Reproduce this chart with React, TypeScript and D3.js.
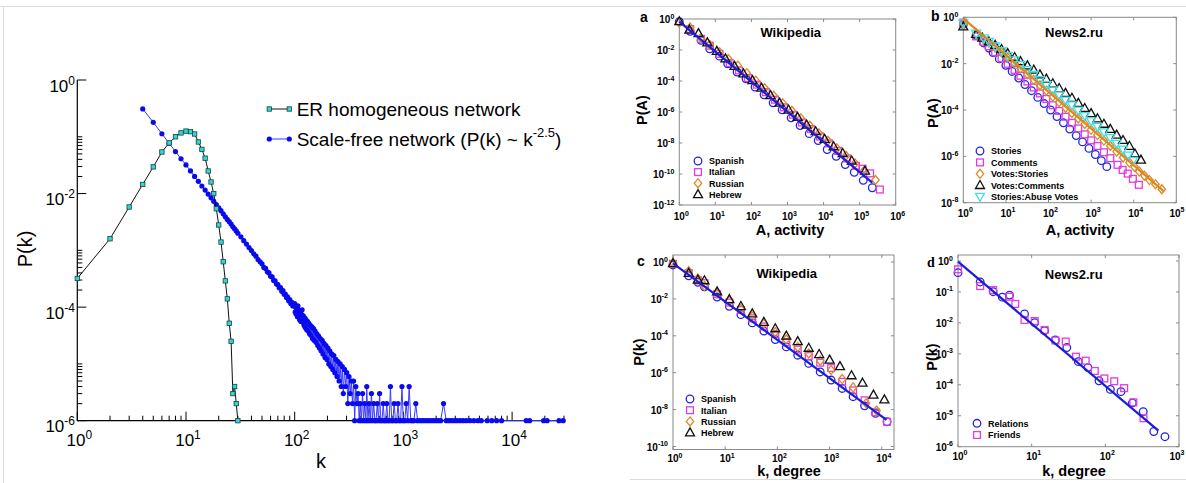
import React from "react";
import * as d3 from "d3";

type Pt = [number, number];
type Shape = "circle" | "square" | "diamond" | "triangle" | "triangleDown";

const SANS = "'Liberation Sans', Arial, Helvetica, sans-serif";

// ---------- left panel: degree distributions ----------
const erPoints: Pt[] = [
  [1, 3.2e-4], [2, 1.6e-3], [3, 5.8e-3], [4, 0.0145], [5, 0.0295], [6, 0.054], [7, 0.078],
  [8, 0.1], [9, 0.117], [10, 0.126], [11, 0.123], [12, 0.112], [13, 0.081], [14, 0.06],
  [15, 0.042], [16, 0.025], [17, 0.016], [18, 0.01], [19, 5.4e-3], [20, 2.8e-3], [21, 1.4e-3],
  [22, 6.3e-4], [23, 2.9e-4], [24, 1.4e-4], [25, 5.2e-5], [26, 2.5e-5], [27, 3e-6], [28, 4e-6],
  [29, 2e-6], [30, 1e-6],
];

const sfHead: Pt[] = [
  [4, 0.31], [5, 0.18], [6, 0.113], [7, 0.077], [8, 0.055], [9, 0.041], [10, 0.032], [11, 0.025],
  [12, 0.02], [13, 0.0164], [14, 0.0136], [15, 0.0115], [16, 0.0098], [17, 0.0084], [18, 0.0073],
  [19, 0.0064], [20, 0.0056], [21, 0.005], [22, 0.0044], [23, 0.0039], [24, 0.0035], [25, 0.0032],
  [26, 0.0029], [27, 0.0026], [28, 0.0024], [29, 0.0022], [30, 0.002], [32, 0.00173], [34, 0.00148],
  [36, 0.00129], [38, 0.00112], [40, 9.9e-4], [42, 8.7e-4], [44, 7.9e-4], [46, 6.9e-4], [48, 6.3e-4],
  [50, 5.8e-4], [52, 5.0e-4], [54, 4.8e-4], [56, 4.2e-4], [58, 4.0e-4], [60, 3.5e-4], [62, 3.4e-4],
  [64, 2.95e-4], [66, 2.9e-4], [68, 2.55e-4], [70, 2.5e-4], [72, 2.2e-4], [74, 2.2e-4], [76, 1.9e-4],
  [78, 1.95e-4], [80, 1.68e-4], [82, 1.7e-4], [84, 1.48e-4], [86, 1.52e-4], [88, 1.3e-4], [90, 1.36e-4],
  [92, 1.16e-4], [94, 1.22e-4], [96, 1.05e-4], [98, 1.1e-4],
];

const sfNoisy: Pt[] = [
  [100, 1.15e-4], [101, 8.2e-5], [102, 1.0e-4], [103, 7.6e-5], [105, 9.4e-5], [106, 6.8e-5],
  [107, 1.05e-4], [109, 7.2e-5], [110, 8.8e-5], [111, 6.0e-5], [113, 8.0e-5], [114, 5.6e-5],
  [116, 7.4e-5], [117, 9.0e-5], [119, 5.4e-5], [120, 7.0e-5], [122, 4.8e-5], [124, 6.4e-5],
  [125, 4.4e-5], [127, 6.0e-5], [129, 4.0e-5], [131, 5.6e-5], [133, 3.8e-5], [135, 5.2e-5],
  [137, 3.4e-5], [139, 4.8e-5], [141, 3.2e-5], [144, 4.5e-5], [146, 2.8e-5], [149, 4.2e-5],
  [151, 2.6e-5], [154, 3.8e-5], [157, 2.4e-5], [160, 3.4e-5], [163, 2.1e-5], [166, 3.1e-5],
  [169, 1.9e-5], [172, 2.8e-5], [175, 1.7e-5], [179, 2.6e-5], [182, 1.5e-5], [186, 2.3e-5],
  [190, 1.3e-5], [194, 2.1e-5], [198, 1.2e-5], [202, 1.9e-5], [206, 1.0e-5], [210, 1.7e-5],
  [215, 9e-6], [219, 1.5e-5], [224, 8e-6], [229, 1.4e-5], [234, 7e-6], [239, 1.2e-5], [245, 6e-6],
  [250, 1.1e-5], [256, 5e-6], [262, 1.0e-5], [268, 4e-6], [274, 9e-6], [280, 3e-6], [287, 8e-6],
  [294, 4e-6], [301, 7e-6], [308, 2e-6], [316, 6e-6], [324, 3e-6], [332, 5e-6], [340, 2e-6],
  [348, 5e-6], [356, 1e-6], [365, 4e-6], [374, 2e-6], [383, 3e-6], [392, 1e-6],
];

const sfTail: Pt[] = [
  [400, 2e-6], [410, 1e-6], [421, 3e-6], [430, 1e-6], [441, 2e-6], [452, 1e-6], [460, 4e-6],
  [472, 1e-6], [483, 2e-6], [495, 1e-6], [508, 3e-6], [520, 1e-6], [533, 2e-6], [547, 1e-6],
  [560, 1e-6], [575, 2e-6], [590, 1e-6], [604, 3e-6], [620, 1e-6], [636, 1e-6], [652, 2e-6],
  [668, 1e-6], [685, 1e-6], [703, 2e-6], [721, 1e-6], [740, 1e-6], [760, 4e-6], [780, 1e-6],
  [800, 1e-6], [822, 2e-6], [845, 1e-6], [868, 1e-6], [892, 2e-6], [917, 1e-6], [943, 1e-6],
  [970, 4e-6], [998, 1e-6], [1030, 1e-6], [1060, 2e-6], [1095, 1e-6], [1130, 4e-6], [1170, 1e-6],
  [1210, 1e-6], [1250, 1e-6], [1300, 2e-6], [1350, 1e-6], [1420, 1e-6], [1500, 1e-6], [1580, 1e-6],
  [1670, 1e-6], [1760, 1e-6], [1860, 1e-6], [1970, 1e-6], [2080, 1e-6], [2200, 1e-6], [2340, 2e-6],
  [2480, 1e-6], [2620, 1e-6], [2780, 1e-6], [2950, 1e-6], [3130, 1e-6], [3330, 1e-6], [3550, 1e-6],
  [3800, 1e-6], [4100, 1e-6], [4450, 1e-6], [4850, 1e-6], [5200, 1e-6], [5900, 1e-6], [6500, 1e-6],
  [7200, 1e-6], [8000, 1e-6], [13500, 1e-6], [14500, 1e-6], [19500, 1e-6], [21000, 1e-6],
  [27000, 1e-6], [29500, 1e-6],
];

// ---------- panel a: Wikipedia activity ----------
const wikiActSpanish: Pt[] = [
  [1, 0.68], [2, 0.16], [4, 0.042], [7, 0.012], [13, 4.0e-3], [22, 1.3e-3], [40, 3.8e-4], [71, 1.4e-4],
  [126, 4.1e-5], [224, 1.3e-5], [400, 3.9e-6], [710, 1.4e-6], [1260, 4.2e-7], [2240, 1.35e-7],
  [4000, 4.0e-8], [7100, 1.45e-8], [12600, 3.8e-9], [22400, 1.4e-9], [40000, 4.1e-10],
  [71000, 1.3e-10], [126000, 3.9e-11], [224000, 1.3e-11],
];
const wikiActItalian: Pt[] = [
  [2, 0.22], [4, 0.052], [7, 0.019], [13, 5.6e-3], [25, 1.45e-3], [45, 4.8e-4], [80, 1.55e-4],
  [141, 5.8e-5], [251, 1.9e-5], [447, 6.2e-6], [794, 2.0e-6], [1410, 6.6e-7], [2510, 2.1e-7],
  [4470, 7.9e-8], [7940, 2.6e-8], [14100, 9.5e-9], [25100, 3.1e-9], [44700, 1.0e-9],
  [79400, 3.4e-10], [120000, 2.2e-10], [195000, 1.1e-10], [363000, 1.0e-11],
];
const wikiActRussian: Pt[] = [
  [1, 0.58], [2, 0.28], [4, 0.059], [7, 0.021], [13, 7.2e-3], [23, 2.6e-3], [42, 9.8e-4], [74, 3.2e-4],
  [132, 1.05e-4], [234, 3.4e-5], [417, 1.1e-5], [741, 3.6e-6], [1320, 1.2e-6], [2340, 3.9e-7],
  [4170, 1.3e-7], [7410, 4.2e-8], [13200, 1.4e-8], [23400, 4.5e-9], [41700, 1.5e-9],
  [74100, 4.8e-10], [132000, 1.6e-10], [275000, 4.1e-11],
];
const wikiActHebrew: Pt[] = [
  [1, 0.7], [1.9, 0.2], [3.4, 0.12], [6, 0.03], [11, 8.5e-3], [19, 2.8e-3], [34, 9.1e-4], [60, 3.0e-4],
  [107, 1.1e-4], [190, 3.6e-5], [339, 1.2e-5], [603, 3.9e-6], [1070, 1.4e-6], [1900, 4.7e-7],
  [3390, 1.5e-7], [6030, 5.6e-8], [10700, 1.8e-8], [19000, 6.0e-9], [33900, 2.2e-9],
  [60300, 7.2e-10], [141000, 1.6e-10],
];
const wikiActFit: Pt[] = [[1, 0.68], [224000, 2.8e-11]];

// ---------- panel b: News2.ru activity ----------
const newsStories: Pt[] = [
  [1, 0.5], [2, 0.166], [3, 0.078], [4, 0.047], [5, 0.03], [7, 0.016], [10, 8.5e-3], [14, 4.6e-3],
  [20, 2.4e-3], [28, 1.26e-3], [40, 6.8e-4], [56, 3.5e-4], [79, 1.9e-4], [112, 1.0e-4], [158, 5.2e-5],
  [224, 2.8e-5], [316, 1.5e-5], [447, 7.9e-6], [631, 4.2e-6], [891, 2.2e-6], [1260, 1.2e-6],
  [1740, 6.5e-7], [2340, 3.6e-7],
];
const newsComments: Pt[] = [
  [1, 0.59], [2, 0.15], [3, 0.089], [4, 0.056], [5.6, 0.031], [7.9, 0.017], [11, 9.8e-3], [16, 5.4e-3],
  [22, 3.0e-3], [32, 1.7e-3], [45, 9.3e-4], [63, 5.2e-4], [89, 3.0e-4], [126, 1.6e-4], [178, 9.1e-5],
  [251, 5.1e-5], [355, 2.8e-5], [501, 1.6e-5], [708, 8.9e-6], [1000, 4.9e-6], [1410, 2.8e-6],
  [2000, 1.5e-6], [2820, 8.3e-7], [4170, 4.3e-7], [5500, 2.6e-7], [7240, 1.8e-7], [9550, 1.07e-7],
  [13200, 5.9e-8],
];
const newsVotesStories: Pt[] = [
  [1, 0.5], [2, 0.19], [3, 0.11], [4, 0.079], [5.6, 0.05], [7.9, 0.03], [11, 0.018], [16, 0.0105],
  [22, 6.3e-3], [32, 3.5e-3], [45, 2.0e-3], [63, 1.17e-3], [89, 6.8e-4], [126, 3.8e-4], [178, 2.2e-4],
  [251, 1.26e-4], [355, 7.4e-5], [501, 4.3e-5], [708, 2.5e-5], [1000, 1.4e-5], [1410, 8.3e-6],
  [2000, 4.8e-6], [2820, 2.8e-6], [3980, 1.6e-6], [5620, 8.9e-7], [7940, 5.4e-7], [10500, 3.5e-7],
  [13500, 2.2e-7], [17800, 1.45e-7], [23400, 9.5e-8], [32400, 6.3e-8], [45700, 3.8e-8],
];
const newsVotesComments: Pt[] = [
  [1, 0.4], [2, 0.19], [2.8, 0.13], [4, 0.089], [5.6, 0.063], [7.9, 0.042], [11, 0.028], [16, 0.019],
  [22, 0.0126], [32, 8.3e-3], [45, 5.4e-3], [63, 3.4e-3], [89, 2.2e-3], [126, 1.4e-3], [178, 8.7e-4],
  [251, 5.4e-4], [355, 3.3e-4], [501, 2.0e-4], [708, 1.2e-4], [1000, 7.2e-5], [1410, 4.3e-5],
  [2000, 2.5e-5], [2820, 1.5e-5], [3980, 8.5e-6], [5620, 5.0e-6], [7940, 2.8e-6], [10700, 1.3e-6],
  [14800, 7.1e-7],
];
const newsAbuseVotes: Pt[] = [
  [1, 0.56], [2, 0.2], [3, 0.126], [4, 0.089], [5.6, 0.056], [7.9, 0.035], [11, 0.022], [16, 0.014],
  [22, 8.9e-3], [32, 5.4e-3], [45, 3.3e-3], [63, 2.0e-3], [89, 1.2e-3], [126, 7.2e-4], [178, 4.4e-4],
  [251, 2.6e-4], [355, 1.6e-4], [501, 9.5e-5], [708, 5.6e-5], [1000, 3.3e-5], [1410, 1.9e-5],
  [2000, 1.1e-5], [2820, 6.3e-6], [3980, 3.5e-6], [5620, 2.0e-6], [7410, 1.1e-6], [9550, 6.3e-7],
];
const newsActFit: Pt[] = [[1, 0.9], [52000, 3.0e-8]];

// ---------- panel c: Wikipedia degree ----------
const wikiDegSpanish: Pt[] = [
  [1, 0.69], [2, 0.18], [3, 0.079], [4, 0.045], [7, 0.0126], [12, 4.0e-3], [20, 1.4e-3], [33, 5.0e-4],
  [55, 1.8e-4], [91, 6.3e-5], [148, 2.5e-5], [245, 8.9e-6], [398, 3.2e-6], [661, 1.1e-6],
  [1070, 4.0e-7], [1740, 1.4e-7], [2820, 5.0e-8], [4680, 1.6e-8], [7590, 6.3e-9], [12600, 2.2e-9],
];
const wikiDegItalian: Pt[] = [
  [1, 0.79], [2, 0.25], [3, 0.1], [4, 0.071], [7, 0.018], [12, 6.3e-3], [20, 2.5e-3], [33, 8.9e-4],
  [55, 3.2e-4], [91, 1.26e-4], [148, 4.5e-5], [245, 1.8e-5], [398, 7.9e-6], [661, 3.5e-6],
  [1070, 1.8e-6], [1740, 3.2e-7], [2820, 1.1e-7], [4680, 3.2e-8], [7590, 7.1e-9], [12600, 2.2e-9],
];
const wikiDegRussian: Pt[] = [
  [1, 0.89], [2, 0.32], [3, 0.126], [4, 0.05], [7, 0.02], [12, 7.9e-3], [20, 2.8e-3], [33, 1.1e-3],
  [55, 4.5e-4], [91, 1.6e-4], [148, 6.3e-5], [245, 2.5e-5], [398, 1.1e-5], [661, 4.5e-6],
  [1070, 1.4e-6], [1740, 4.5e-7], [2820, 1.6e-7], [5010, 2.2e-8], [7940, 8.9e-9],
];
const wikiDegHebrew: Pt[] = [
  [1, 0.85], [2, 0.25], [3, 0.11], [4, 0.1], [7, 0.025], [12, 9.5e-3], [20, 4.0e-3], [33, 1.6e-3],
  [55, 5.6e-4], [91, 2.5e-4], [148, 1.0e-4], [245, 5.0e-5], [398, 2.2e-5], [631, 1.0e-5],
  [1000, 5.0e-6], [1580, 2.2e-6], [2630, 7.1e-7], [4270, 2.8e-7], [6920, 6.3e-8], [11200, 3.5e-8],
];
const wikiDegFit: Pt[] = [[1, 0.85], [12300, 2.75e-9]];

// ---------- panel d: News2.ru degree ----------
const newsRelations: Pt[] = [
  [1, 0.42], [2, 0.21], [3, 0.102], [4, 0.068], [5, 0.079], [8, 0.0195], [11, 0.0102], [15, 5.6e-3],
  [21, 2.8e-3], [30, 1.6e-3], [43, 5.6e-4], [58, 3.6e-4], [82, 1.35e-4], [117, 7.1e-5], [163, 6.0e-5],
  [233, 2.6e-5], [327, 1.35e-5], [455, 3.1e-6], [645, 2.1e-6],
];
const newsFriends: Pt[] = [
  [1, 0.54], [2, 0.155], [3, 0.115], [5, 0.07], [6, 0.041], [8, 0.0124], [11, 0.0115], [15, 5.9e-3],
  [21, 2.7e-3], [29, 2.5e-3], [40, 8.1e-4], [54, 6.0e-4], [72, 2.8e-4], [97, 1.6e-4], [132, 1.3e-4],
  [180, 7.8e-5], [240, 2.7e-5], [330, 8.3e-6],
];
const newsDegFit: Pt[] = [[1, 0.95], [525, 3.3e-6]];

const BLUE = "#2424e0";
const MAGENTA = "#e23be0";
const ORANGE = "#dc8a25";
const CYAN = "#3fe0e8";

function Marker({ shape, x, y, color }: { shape: Shape; x: number; y: number; color: string }) {
  const common = { fill: "none", stroke: color, strokeWidth: 1.3 };
  if (shape === "circle") return <circle cx={x} cy={y} r={3.8} {...common} />;
  if (shape === "square") return <rect x={x - 3.4} y={y - 3.4} width={6.8} height={6.8} {...common} />;
  if (shape === "diamond")
    return <path d={`M${x},${y - 4.5}L${x + 3.7},${y}L${x},${y + 4.5}L${x - 3.7},${y}Z`} {...common} />;
  if (shape === "triangle")
    return <path d={`M${x},${y - 4.7}L${x + 4.5},${y + 3.3}L${x - 4.5},${y + 3.3}Z`} {...common} />;
  return <path d={`M${x},${y + 4.7}L${x + 4.5},${y - 3.3}L${x - 4.5},${y - 3.3}Z`} {...common} />;
}

function Pow({ x, y, exp, anchor, size, supSize, dy, weight }: any) {
  return (
    <text x={x} y={y} textAnchor={anchor} fontSize={size} fontWeight={weight} fill="#000">
      10<tspan dy={-dy} fontSize={supSize}>{exp}</tspan>
    </text>
  );
}

function LeftPanel() {
  const x = d3.scaleLog().domain([1, 1e4]).range([77.3, 512.1]);
  const y = d3.scaleLog().domain([1e-6, 1]).range([420.7, 80]);
  const line = d3.line<Pt>().x((d) => x(d[0])).y((d) => y(d[1]));
  const sf = [...sfHead, ...sfNoisy, ...sfTail];
  const xAxisEnd = 565;
  const xMinor: number[] = [];
  for (let e = 0; e <= 4; e++)
    for (let m = 2; m <= 9; m++) {
      const v = m * Math.pow(10, e);
      if (x(v) <= xAxisEnd) xMinor.push(v);
    }
  const yMinor: number[] = [];
  [-6, -4, -2].forEach((e) => {
    for (let m = 2; m <= 10; m++) yMinor.push(m * Math.pow(10, e));
  });
  const base = y(1e-6);
  return (
    <g fontFamily={SANS}>
      <line x1={x(1)} x2={x(1)} y1={y(1)} y2={base} stroke="#000" strokeWidth={1.2} />
      <line x1={x(1)} x2={xAxisEnd} y1={base} y2={base} stroke="#000" strokeWidth={1.2} />
      {[0, 1, 2, 3, 4].map((e) => (
        <line key={"xM" + e} x1={x(10 ** e)} x2={x(10 ** e)} y1={base} y2={base - 9} stroke="#000" />
      ))}
      {xMinor.map((v) => (
        <line key={"xm" + v} x1={x(v)} x2={x(v)} y1={base} y2={base - 5} stroke="#000" />
      ))}
      {[0, -2, -4, -6].map((e) => (
        <line key={"yM" + e} x1={x(1)} x2={x(1) + 9} y1={y(10 ** e)} y2={y(10 ** e)} stroke="#000" />
      ))}
      {yMinor.map((v) => (
        <line key={"ym" + v} x1={x(1)} x2={x(1) + 5} y1={y(v)} y2={y(v)} stroke="#000" />
      ))}
      {[0, 1, 2, 3, 4].map((e) => (
        <Pow key={"xl" + e} x={x(10 ** e) + 2} y={base + 25} exp={e} anchor="middle" size={17} supSize={12} dy={7} />
      ))}
      {[0, -2, -4, -6].map((e) => (
        <Pow key={"yl" + e} x={75} y={y(10 ** e) + 11.5} exp={e} anchor="end" size={17} supSize={12} dy={7} />
      ))}
      <text x={321} y={468} textAnchor="middle" fontSize={20}>k</text>
      <text transform="translate(32,249) rotate(-90)" textAnchor="middle" fontSize={20}>P(k)</text>

      <path d={line(sf) || ""} fill="none" stroke="#3a3aff" strokeWidth={1} />
      {sf.map((d, i) => (
        <circle key={"sf" + i} cx={x(d[0])} cy={y(d[1])} r={2.6} fill="#0a0aee" />
      ))}
      <path d={line(erPoints) || ""} fill="none" stroke="#111" strokeWidth={1} />
      {erPoints.map((d, i) => (
        <rect key={"er" + i} x={x(d[0]) - 2.2} y={y(d[1]) - 2.2} width={4.4} height={4.4} fill="#33d6d0" stroke="#124444" strokeWidth={0.8} />
      ))}

      <line x1={269.3} x2={289.3} y1={109} y2={109} stroke="#111" />
      <rect x={267.1} y={106.8} width={4.4} height={4.4} fill="#33d6d0" stroke="#124444" strokeWidth={0.8} />
      <rect x={287.1} y={106.8} width={4.4} height={4.4} fill="#33d6d0" stroke="#124444" strokeWidth={0.8} />
      <text x={296.7} y={115.8} fontSize={19}>ER homogeneous network</text>
      <line x1={269.3} x2={289.3} y1={139} y2={139} stroke="#3a3aff" />
      <circle cx={269.3} cy={139} r={2.6} fill="#0a0aee" />
      <circle cx={289.3} cy={139} r={2.6} fill="#0a0aee" />
      <text x={296.7} y={145.8} fontSize={19}>
        Scale-free network (P(k) ~ k<tspan dy={-9} fontSize={13}>-2.5</tspan>
        <tspan dy={9}>)</tspan>
      </text>
    </g>
  );
}

interface SeriesCfg {
  name: string;
  shape: Shape;
  color: string;
  data: Pt[];
}

interface PanelCfg {
  box: { l: number; r: number; t: number; b: number };
  xRange: [number, number];
  xMaxExp: number;
  yRange: [number, number];
  yMinExp: number;
  yStep: number;
  xTickY: number;
  letter: string;
  letterPos: [number, number];
  letterSerif?: boolean;
  title: string;
  titlePos: [number, number];
  xLabel: string;
  xLabelPos: [number, number];
  yLabel: string;
  yLabelPos: [number, number];
  series: SeriesCfg[];
  fit: Pt[];
  fitColor: string;
  legend: { x: number; y0: number; dy: number };
}

function Panel({ cfg }: { cfg: PanelCfg }) {
  const { box } = cfg;
  const x = d3.scaleLog().domain([1, Math.pow(10, cfg.xMaxExp)]).range(cfg.xRange);
  const y = d3.scaleLog().domain([1, Math.pow(10, cfg.yMinExp)]).range(cfg.yRange);
  const line = d3.line<Pt>().x((d) => x(d[0])).y((d) => y(d[1]));
  const xExps = d3.range(0, cfg.xMaxExp + 1);
  const yExps = d3.range(0, cfg.yMinExp - 1, -cfg.yStep);
  const tc = "#8a8a8a";
  return (
    <g fontFamily={SANS} fontWeight="bold">
      <rect x={box.l} y={box.t} width={box.r - box.l} height={box.b - box.t} fill="#fff" stroke={tc} strokeWidth={1} />
      {xExps.map((e) => {
        const px = x(10 ** e);
        return (
          <g key={"x" + e}>
            <line x1={px} x2={px} y1={box.b} y2={box.b - 3} stroke={tc} />
            <line x1={px} x2={px} y1={box.t} y2={box.t + 3} stroke={tc} />
            <Pow x={Math.min(px + 2, 1177)} y={cfg.xTickY} exp={e} anchor="middle" size={10} supSize={7} dy={4.5} weight="bold" />
          </g>
        );
      })}
      {yExps.map((e) => {
        const py = y(10 ** e);
        return (
          <g key={"y" + e}>
            <line x1={box.l} x2={box.l + 3} y1={py} y2={py} stroke={tc} />
            <line x1={box.r} x2={box.r - 3} y1={py} y2={py} stroke={tc} />
            <Pow x={box.l - 5} y={py + 4} exp={e} anchor="end" size={10} supSize={7} dy={4.5} weight="bold" />
          </g>
        );
      })}
      {cfg.series.map((s) =>
        s.data.map((d, i) => <Marker key={s.name + i} shape={s.shape} x={x(d[0])} y={y(d[1])} color={s.color} />)
      )}
      <path d={line(cfg.fit) || ""} fill="none" stroke={cfg.fitColor} strokeWidth={2.2} />
      {cfg.series.map((s, i) => (
        <g key={"lg" + s.name}>
          <Marker shape={s.shape} x={cfg.legend.x} y={cfg.legend.y0 + i * cfg.legend.dy} color={s.color} />
          <text x={cfg.legend.x + 11} y={cfg.legend.y0 + i * cfg.legend.dy + 3.3} fontSize={9}>
            {s.name}
          </text>
        </g>
      ))}
      <text x={cfg.titlePos[0]} y={cfg.titlePos[1]} textAnchor="middle" fontSize={13}>{cfg.title}</text>
      <text x={cfg.xLabelPos[0]} y={cfg.xLabelPos[1]} textAnchor="middle" fontSize={14.5}>{cfg.xLabel}</text>
      <text transform={`translate(${cfg.yLabelPos[0]},${cfg.yLabelPos[1]}) rotate(-90)`} textAnchor="middle" fontSize={14.5}>
        {cfg.yLabel}
      </text>
      <text
        x={cfg.letterPos[0]}
        y={cfg.letterPos[1]}
        fontSize={14}
        fontFamily={cfg.letterSerif ? "'Liberation Serif', 'Times New Roman', serif" : SANS}
      >
        {cfg.letter}
      </text>
    </g>
  );
}

const wikiSeries = (sp: Pt[], it: Pt[], ru: Pt[], he: Pt[]): SeriesCfg[] => [
  { name: "Spanish", shape: "circle", color: BLUE, data: sp },
  { name: "Italian", shape: "square", color: MAGENTA, data: it },
  { name: "Russian", shape: "diamond", color: ORANGE, data: ru },
  { name: "Hebrew", shape: "triangle", color: "#111", data: he },
];

const panels: PanelCfg[] = [
  {
    box: { l: 679.3, r: 895.7, t: 19, b: 205 },
    xRange: [679.3, 895.7], xMaxExp: 6,
    yRange: [19, 205], yMinExp: -12, yStep: 2,
    xTickY: 220,
    letter: "a", letterPos: [640, 22],
    title: "Wikipedia", titlePos: [790.7, 37],
    xLabel: "A, activity", xLabelPos: [790, 235],
    yLabel: "P(A)", yLabelPos: [647, 110],
    series: wikiSeries(wikiActSpanish, wikiActItalian, wikiActRussian, wikiActHebrew),
    fit: wikiActFit, fitColor: "#1c1cd8",
    legend: { x: 698, y0: 161, dy: 11.1 },
  },
  {
    box: { l: 963.3, r: 1176.3, t: 17.3, b: 202.7 },
    xRange: [963.3, 1176.3], xMaxExp: 5,
    yRange: [17.3, 202.7], yMinExp: -8, yStep: 2,
    xTickY: 216.5,
    letter: "b", letterPos: [931, 21],
    title: "News2.ru", titlePos: [1074, 37],
    xLabel: "A, activity", xLabelPos: [1080, 235],
    yLabel: "P(A)", yLabelPos: [938, 113],
    series: [
      { name: "Stories", shape: "circle", color: BLUE, data: newsStories },
      { name: "Comments", shape: "square", color: MAGENTA, data: newsComments },
      { name: "Votes:Stories", shape: "diamond", color: ORANGE, data: newsVotesStories },
      { name: "Votes:Comments", shape: "triangle", color: "#111", data: newsVotesComments },
      { name: "Stories:Abuse Votes", shape: "triangleDown", color: CYAN, data: newsAbuseVotes },
    ],
    fit: newsActFit, fitColor: "#d98a22",
    legend: { x: 980, y0: 151, dy: 11.4 },
  },
  {
    box: { l: 673, r: 894, t: 255, b: 449.5 },
    xRange: [673, 881.8], xMaxExp: 4,
    yRange: [262, 446.5], yMinExp: -10, yStep: 2,
    xTickY: 462,
    letter: "c", letterPos: [637, 266],
    title: "Wikipedia", titlePos: [786.7, 277.5],
    xLabel: "k, degree", xLabelPos: [789, 476],
    yLabel: "P(k)", yLabelPos: [644, 352],
    series: wikiSeries(wikiDegSpanish, wikiDegItalian, wikiDegRussian, wikiDegHebrew),
    fit: wikiDegFit, fitColor: "#1c1cd8",
    legend: { x: 690, y0: 399, dy: 11.2 },
  },
  {
    box: { l: 958, r: 1179, t: 255, b: 446.7 },
    xRange: [958, 1179], xMaxExp: 3,
    yRange: [261, 446.7], yMinExp: -6, yStep: 1,
    xTickY: 459.5,
    letter: "d", letterPos: [927, 267], letterSerif: true,
    title: "News2.ru", titlePos: [1073.7, 278.5],
    xLabel: "k, degree", xLabelPos: [1074, 476],
    yLabel: "P(k)", yLabelPos: [937, 357],
    series: [
      { name: "Relations", shape: "circle", color: BLUE, data: newsRelations },
      { name: "Friends", shape: "square", color: MAGENTA, data: newsFriends },
    ],
    fit: newsDegFit, fitColor: "#1c1cd8",
    legend: { x: 977, y0: 423.3, dy: 11.7 },
  },
];

export default function App() {
  return (
    <svg
      width={1186}
      height={483}
      style={{ position: "absolute", left: 0, top: 0, background: "#fff" }}
    >
      <rect x={0} y={0} width={1186} height={483} fill="#fff" />
      <line x1={0} x2={1186} y1={6.5} y2={6.5} stroke="#dcdcdc" />
      <line x1={3.5} x2={3.5} y1={6.5} y2={483} stroke="#dcdcdc" />
      <line x1={630} x2={1186} y1={479.5} y2={479.5} stroke="#dcdcdc" />
      <LeftPanel />
      {panels.map((p, i) => (
        <Panel key={i} cfg={p} />
      ))}
    </svg>
  );
}
